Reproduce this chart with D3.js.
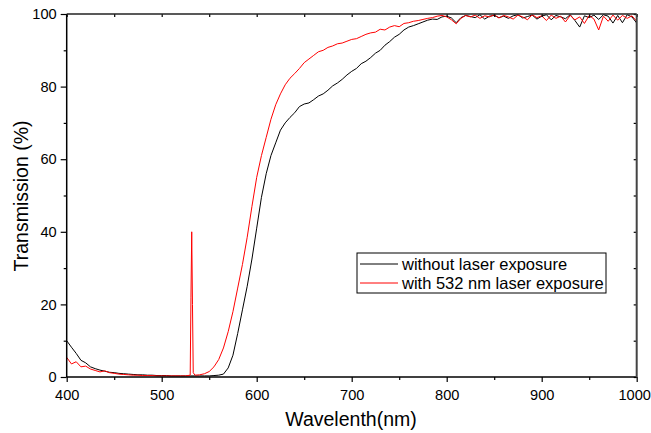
<!DOCTYPE html>
<html>
<head>
<meta charset="utf-8">
<script src="https://cdn.jsdelivr.net/npm/d3@7"></script>
<style>
    body { margin: 0; background: #fff; }
    text { font-family: "Liberation Sans", Arial, sans-serif; fill: #000; }
</style>
</head>
<body>
<div id="chart"></div>
<script>
(function() {"use strict";

    // wavelength grid (nm)
    var wavelength = [
        400,405,410,415,420,425,430,435,440,445,450,455,460,465,470,475,480,485,490,495,
        500,505,510,515,520,525,530,535,540,545,550,555,560,565,570,575,580,585,590,595,
        600,605,610,615,620,625,630,635,640,645,650,655,660,665,670,675,680,685,690,695,
        700,705,710,715,720,725,730,735,740,745,750,755,760,765,770,775,780,785,790,795,
        800,805,810,815,820,825,830,835,840,845,850,855,860,865,870,875,880,885,890,895,
        900,905,910,915,920,925,930,935,940,945,950,955,960,965,970,975,980,985,990,995,
        1000
    ];

    // without laser exposure (%)
    var withoutLaser = [
        10.0,8.2,6.5,4.6,3.9,2.8,2.3,1.9,1.6,1.3,1.2,1.0,0.9,0.8,0.7,0.6,0.6,0.5,0.5,0.4,
        0.4,0.4,0.3,0.3,0.3,0.3,0.3,0.3,0.3,0.3,0.3,0.4,0.5,0.8,2.5,6.0,12.0,18.5,25.0,32.5,
        41.0,49.5,56.0,61.0,64.5,68.0,70.0,71.5,72.8,74.5,75.2,75.5,76.4,77.4,78.0,79.0,80.2,81.0,82.0,83.2,
        84.2,85.0,86.3,87.0,88.0,89.2,90.0,91.4,92.4,93.6,94.4,95.6,96.4,96.8,97.3,97.8,98.3,98.6,98.5,99.2,
        99.4,98.9,97.6,99.0,99.6,99.3,99.0,99.8,98.6,99.4,99.6,99.0,99.4,98.8,99.5,99.8,98.9,99.3,99.7,98.6,
        99.4,99.8,98.4,99.6,99.2,98.7,99.8,98.2,96.4,99.5,99.0,99.7,98.5,99.8,99.4,97.5,99.6,97.6,99.8,99.2,
        97.5
    ];

    // with 532 nm laser exposure (%)
    var withLaser = [
        5.4,3.6,4.2,2.8,3.0,2.2,1.8,1.4,1.7,1.2,1.0,0.8,0.7,0.6,0.5,0.5,0.4,0.4,0.4,0.3,
        0.3,0.3,0.3,0.3,0.3,0.3,0.5,0.5,0.6,0.9,1.5,2.8,4.8,8.0,12.5,18.0,24.5,31.0,38.5,47.0,
        55.0,61.0,66.0,71.0,75.0,78.0,80.5,82.3,83.6,85.0,86.6,87.6,88.6,89.6,90.0,90.8,91.2,91.8,92.0,92.5,
        93.0,93.2,93.8,94.4,94.8,95.0,95.8,95.6,96.4,96.8,96.5,97.4,97.6,98.0,98.2,98.5,98.8,99.0,99.4,99.6,
        99.2,98.4,97.3,98.8,99.6,99.2,99.7,98.8,99.5,99.2,99.8,98.9,99.6,99.2,98.6,99.7,99.2,98.4,99.8,99.0,
        99.5,98.2,99.7,98.8,99.4,97.8,99.6,98.4,99.2,97.4,99.6,98.6,95.6,99.4,98.0,99.7,98.3,99.6,98.8,99.5,
        98.0
    ];

    // 532 nm laser line seen in the exposed sample
    var spikeWavelength = [530.8, 531.6, 532.4, 533.2];
    var spikeValue      = [22, 40, 20, 1.2];

    var xTicks = [400, 500, 600, 700, 800, 900, 1000];
    var yTicks = [0, 20, 40, 60, 80, 100];

    var legendLabels = ["without laser exposure", "with 532 nm laser exposure"];
    var seriesColors = ["#000000", "#ff0000"];

    var
        width   = 651,
        height  = 433,
        margin  = {top: 14, right: 14.3, bottom: 56, left: 66.7},
        plotW   = width - margin.left - margin.right,
        plotH   = height - margin.top - margin.bottom,

        svg = d3.select("#chart").append("svg")
            .attr("width", width)
            .attr("height", height),

        g = svg.append("g")
            .attr("transform", "translate(" + margin.left + "," + margin.top + ")"),

        // Scales
        xScale = d3.scaleLinear().domain([400, 1000]).range([0, plotW]),
        yScale = d3.scaleLinear().domain([0, 100]).range([plotH, 0]);

    // build point lists
    var blackPts = wavelength.map(function(w, i) { return [w, withoutLaser[i]]; });
    var redPts = wavelength.map(function(w, i) { return [w, withLaser[i]]; })
        .concat(spikeWavelength.map(function(w, i) { return [w, spikeValue[i]]; }))
        .sort(function(a, b) { return a[0] - b[0]; });

    g.append("clipPath").attr("id", "plotClip")
        .append("rect").attr("width", plotW).attr("height", plotH);

    var line = d3.line()
        .x(function(d) { return xScale(d[0]); })
        .y(function(d) { return yScale(d[1]); });

    var plot = g.append("g").attr("clip-path", "url(#plotClip)");

    [blackPts, redPts].forEach(function(pts, i) {
        plot.append("path")
            .datum(pts)
            .attr("fill", "none")
            .attr("stroke", seriesColors[i])
            .attr("stroke-width", 1)
            .attr("d", line);
    });

    // minor ticks halfway between majors
    var xMinor = d3.range(450, 1000, 100),
        yMinor = d3.range(10, 100, 20);

    function styleAxis(sel) {
        sel.select(".domain").remove();
        sel.selectAll(".tick line").attr("stroke", "#000").attr("stroke-width", 1.2);
        sel.selectAll("text")
            .style("font-size", "14.6px")
            .style("font-family", "'Liberation Sans', Arial, sans-serif");
    }

    // bottom axis
    var xAxisG = g.append("g")
        .attr("transform", "translate(0," + plotH + ")")
        .call(d3.axisBottom(xScale).tickValues(xTicks).tickSize(5).tickPadding(8)
            .tickFormat(d3.format("d")))
        .call(styleAxis);
    // last label sits at the page edge, nudge it inside
    xAxisG.selectAll(".tick text")
        .filter(function(d) { return d === 1000; })
        .attr("dx", -2.5);
    g.append("g")
        .attr("transform", "translate(0," + plotH + ")")
        .call(d3.axisBottom(xScale).tickValues(xMinor).tickSize(3).tickFormat(""))
        .call(styleAxis);

    // left axis
    g.append("g")
        .call(d3.axisLeft(yScale).tickValues(yTicks).tickSize(6).tickPadding(4)
            .tickFormat(d3.format("d")))
        .call(styleAxis);
    g.append("g")
        .call(d3.axisLeft(yScale).tickValues(yMinor).tickSize(3).tickFormat(""))
        .call(styleAxis);

    // top axis, inward ticks
    g.append("g")
        .call(d3.axisTop(xScale).tickValues(xTicks.concat(xMinor)).tickSize(-3).tickFormat(""))
        .call(styleAxis);

    // right axis, inward ticks
    g.append("g")
        .attr("transform", "translate(" + plotW + ",0)")
        .call(d3.axisRight(yScale).tickValues(yTicks.concat(yMinor)).tickSize(-3).tickFormat(""))
        .call(styleAxis);

    // frame lines
    g.append("line").attr("x1", 0).attr("x2", plotW).attr("y1", plotH).attr("y2", plotH)
        .attr("stroke", "#000").attr("stroke-width", 1.5);
    g.append("line").attr("x1", 0).attr("x2", 0).attr("y1", 0).attr("y2", plotH)
        .attr("stroke", "#000").attr("stroke-width", 1.5);
    g.append("line").attr("x1", 0).attr("x2", plotW).attr("y1", 0).attr("y2", 0)
        .attr("stroke", "#222").attr("stroke-width", 1.5);
    g.append("line").attr("x1", plotW).attr("x2", plotW).attr("y1", 0).attr("y2", plotH)
        .attr("stroke", "#444").attr("stroke-width", 2);

    // axis titles
    svg.append("text")
        .attr("x", 351)
        .attr("y", 426)
        .attr("text-anchor", "middle")
        .style("font-size", "19.5px")
        .text("Wavelenth(nm)");

    svg.append("text")
        .attr("transform", "translate(28,196) rotate(-90)")
        .attr("text-anchor", "middle")
        .style("font-size", "19.5px")
        .text("Transmission (%)");

    // legend
    var legend = svg.append("g").attr("transform", "translate(357,253)");
    legend.append("rect")
        .attr("width", 249).attr("height", 40)
        .attr("fill", "#fff").attr("stroke", "#000").attr("stroke-width", 1);

    legendLabels.forEach(function(label, i) {
        var y = 11 + i * 19;
        legend.append("line")
            .attr("x1", 3).attr("x2", 41).attr("y1", y).attr("y2", y)
            .attr("stroke", seriesColors[i]).attr("stroke-width", 1);
        legend.append("text")
            .attr("x", 45).attr("y", y + 5.5)
            .style("font-size", "16.5px")
            .text(label);
    });

})();
</script>
</body>
</html>
